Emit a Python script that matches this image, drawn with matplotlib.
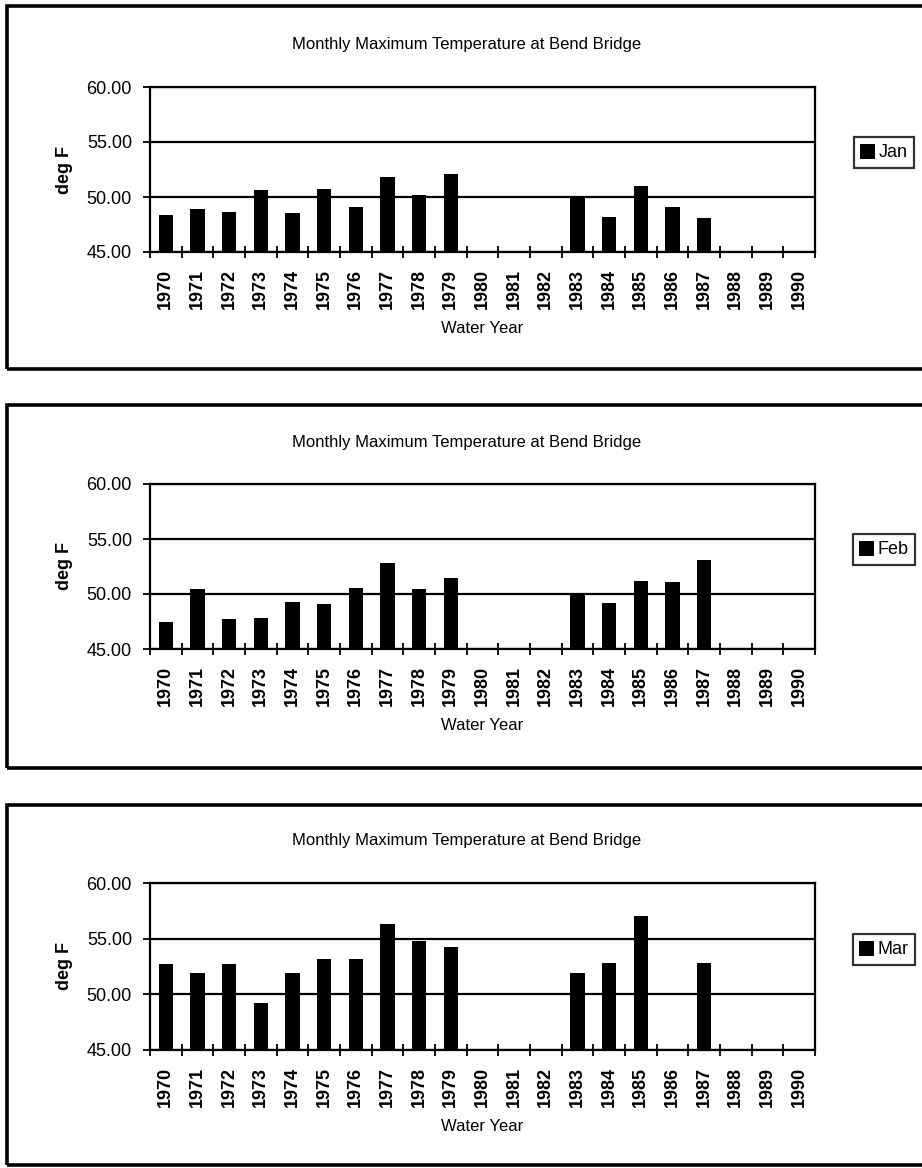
import numpy as np
import matplotlib.pyplot as plt
from matplotlib.patches import Rectangle

# Bend Bridge monthly maximum temperatures, water years 1970-1990 (nan = no record)
years = [str(y) for y in range(1970, 1991)]
nan = np.nan
jan = [48.4, 48.9, 48.6, 50.6, 48.55, 50.7, 49.05, 51.8, 50.15, 52.1,
       nan, nan, nan, 50.1, 48.2, 51.0, 49.1, 48.1, nan, nan, nan]
feb = [47.5, 50.45, 47.7, 47.8, 49.3, 49.1, 50.55, 52.85, 50.5, 51.5,
       nan, nan, nan, 50.0, 49.2, 51.2, 51.1, 53.1, nan, nan, nan]
mar = [52.7, 51.9, 52.7, 49.2, 51.9, 53.2, 53.2, 56.35, 54.75, 54.25,
       nan, nan, nan, 51.9, 52.8, 57.0, nan, 52.8, nan, nan, nan]
months = ["Jan", "Feb", "Mar"]
series = [jan, feb, mar]
yticks = [45, 50, 55, 60]

W, H = 922, 1168
fig = plt.figure(figsize=(W / 100, H / 100), dpi=100)

sans = ["Liberation Sans", "DejaVu Sans"]

# pixel layout of each panel: (frame top, frame bottom, plot top, plot bottom)
panels = [(6, 369, 87, 252), (405, 768, 484, 649), (805, 1165, 883, 1050)]
px_left, px_right = 150, 815


def fx(px):
    return px / W


def fy(py):
    return 1 - py / H


for (ftop, fbot, ptop, pbot), name, vals in zip(panels, months, series):
    fig.patches.append(Rectangle((fx(7), fy(fbot)), 1.2, (fbot - ftop) / H,
                                 transform=fig.transFigure, fill=False,
                                 edgecolor="black", linewidth=2.6))

    ax = fig.add_axes([fx(px_left), fy(pbot), (px_right - px_left) / W,
                       (pbot - ptop) / H])
    x = np.arange(len(years))
    v = np.array(vals, dtype=float)
    ok = ~np.isnan(v)
    ax.bar(x[ok], v[ok] - 45, bottom=45, width=0.46, color="black",
           label=name, zorder=3)

    ax.set_xlim(-0.5, len(years) - 0.5)
    ax.set_ylim(45, 60)
    ax.set_yticks(yticks)
    ax.set_yticklabels([f"{t:.2f}" for t in yticks], family=sans, fontsize=13)
    ax.yaxis.grid(True, color="black", linewidth=1.6)
    ax.set_axisbelow(True)
    for s in ax.spines.values():
        s.set_linewidth(1.6)

    # category labels at centres, tick marks on the boundaries
    ax.set_xticks(x)
    ax.set_xticklabels(years, rotation=90, family=sans, fontsize=13,
                       fontweight="bold")
    ax.tick_params(axis="x", which="major", length=0, pad=12)
    ax.set_xticks(np.arange(len(years) + 1) - 0.5, minor=True)
    ax.tick_params(axis="x", which="minor", direction="inout", length=8,
                   width=1.3)
    ax.tick_params(axis="y", direction="out", length=5, width=1.3, pad=8)

    ax.set_ylabel("deg F", family=sans, fontsize=13, fontweight="bold",
                  labelpad=10)
    ax.set_xlabel("Water Year", family=sans, fontsize=12, labelpad=9)

    fig.text(fx(467), fy(ptop - 42), "Monthly Maximum Temperature at Bend Bridge",
             ha="center", va="center", family=sans, fontsize=12)

    leg = ax.legend(loc="center", bbox_to_anchor=(fx(884), fy((ptop + pbot) / 2 - 17)),
                    bbox_transform=fig.transFigure, frameon=True, fancybox=False,
                    handlelength=0.8, handleheight=0.9, handletextpad=0.2,
                    borderpad=0.35, prop={"family": sans, "size": 13})
    leg.get_frame().set_edgecolor("black")
    leg.get_frame().set_linewidth(1.6)

fig.savefig("out.png", dpi=100)
